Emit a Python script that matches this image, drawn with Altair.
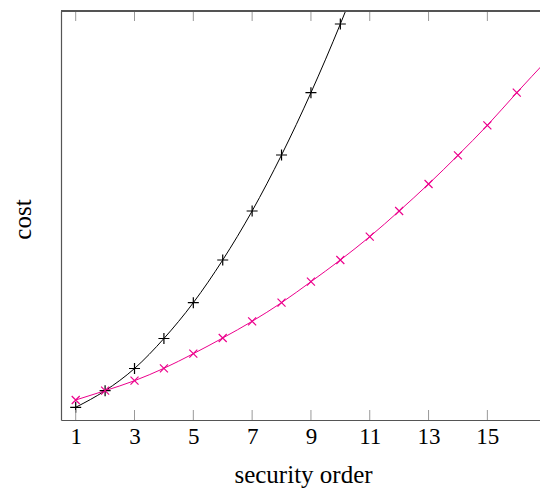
import altair as alt
import pandas as pd

# security order values
black_order = [1, 2, 3, 4, 5, 6, 7, 8, 9, 10, 11]
black_cost = [12.7, 29.3, 51.5, 81.5, 117.3, 160, 209, 265, 327.3, 396, 471]

magenta_order = [1, 2, 3, 4, 5, 6, 7, 8, 9, 10, 11, 12, 13, 14, 15, 16, 17]
magenta_cost = [20, 29.3, 39.3, 51.7, 66.3, 82, 98.7, 117.3, 138.3, 160, 183.3,
                209, 236, 264.7, 294.7, 327.3, 359]

tick_values = [1, 3, 5, 7, 9, 11, 13, 15]

FONT = "Liberation Serif"
FS = 23
TFS = 25
W, H = 479, 409
MAGENTA = "#EC008C"

df_black = pd.DataFrame({"order": black_order, "cost": black_cost})
df_mag = pd.DataFrame({"order": magenta_order, "cost": magenta_cost})
df_ticks = pd.DataFrame({"order": tick_values})

xscale = alt.Scale(domain=[0.5, 16.79], nice=False, zero=False)
yscale = alt.Scale(domain=[0, 409], nice=False, zero=False)

x_axis = alt.Axis(values=tick_values, ticks=False, grid=False, labelFont=FONT,
                  labelFontSize=FS, labelColor="black", labelPadding=5,
                  labelFlush=False, domainColor="#555555", domainWidth=1.2,
                  title="security order", titleFont=FONT, titleFontSize=TFS,
                  titleFontWeight="normal", titleColor="black", titleX=242,
                  titleY=62, titleBaseline="alphabetic", titleAlign="center")
y_axis = alt.Axis(labels=False, ticks=False, grid=False, domainColor="#555555",
                  domainWidth=1.2, title="cost", titleFont=FONT, titleFontSize=TFS,
                  titleFontWeight="normal", titleColor="black", titleX=-39,
                  titleY=208, titleAngle=270, titleAlign="center",
                  titleBaseline="middle")

X = alt.X("order:Q", scale=xscale, axis=x_axis)
Y = alt.Y("cost:Q", scale=yscale, axis=y_axis)

plus_path = "M-1,0L1,0M0,-1L0,1"
cross_path = "M-1,-1L1,1M-1,1L1,-1"

black_line = alt.Chart(df_black).mark_line(
    interpolate="monotone", color="black", strokeWidth=1, clip=True
).encode(x=X, y=Y)
black_pts = alt.Chart(df_black).mark_point(
    shape=plus_path, filled=False, stroke="black", strokeWidth=1.2, size=121,
    opacity=1, clip=True
).encode(x=X, y=Y)

mag_line = alt.Chart(df_mag).mark_line(
    interpolate="monotone", color=MAGENTA, strokeWidth=1, clip=True
).encode(x=X, y=Y)
mag_pts = alt.Chart(df_mag).mark_point(
    shape=cross_path, filled=False, stroke=MAGENTA, strokeWidth=1.2, size=64,
    opacity=1, clip=True
).encode(x=X, y=Y)

top_border = alt.Chart(df_ticks).mark_rule(color="#555555", strokeWidth=1.2).encode(
    x=alt.value(0), x2=alt.value(W + 5), y=alt.value(0)
)
ticks_bottom = alt.Chart(df_ticks).mark_rule(color="#999999", strokeWidth=1).encode(
    x=X, y=alt.value(H), y2=alt.value(H - 10)
)
ticks_top = alt.Chart(df_ticks).mark_rule(color="#999999", strokeWidth=1).encode(
    x=X, y=alt.value(0), y2=alt.value(10)
)

chart = alt.layer(
    black_line, mag_line, black_pts, mag_pts, ticks_bottom, ticks_top, top_border
).properties(
    width=W, height=H,
    autosize=alt.AutoSizeParams(type="none"),
    padding={"left": 61, "top": 11, "right": 0, "bottom": 68},
    background="white",
).configure_view(stroke=None)

chart.save("out.html", embed_options={"renderer": "svg", "actions": False})
